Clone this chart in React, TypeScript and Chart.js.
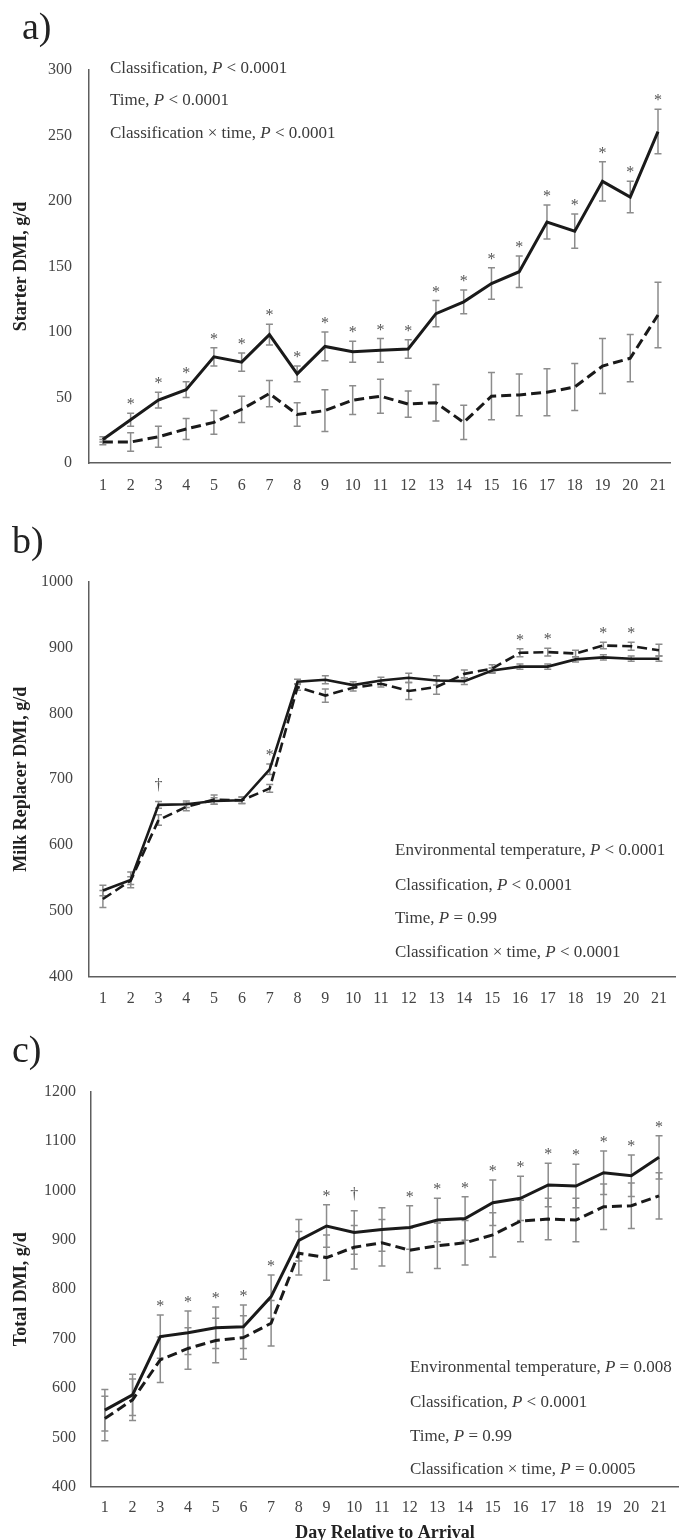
import React, { useEffect, useRef } from "react";
import { Chart, registerables } from "chart.js";

Chart.register(...registerables);

// ---------- data ----------
const days = [1, 2, 3, 4, 5, 6, 7, 8, 9, 10, 11, 12, 13, 14, 15, 16, 17, 18, 19, 20, 21];

// a) Starter DMI, g/d
const starterTicks = [0, 50, 100, 150, 200, 250, 300];
const starterSolid = [18, 33, 48, 56, 81, 77, 98, 68, 89, 85, 86, 87, 114, 123, 137, 146, 184, 177, 215, 203, 253];
const starterSolidErr = [2, 5, 6, 6, 7, 7, 8, 6, 11, 8, 9, 7, 10, 9, 12, 12, 13, 13, 15, 12, 17];
const starterDashed = [16, 16, 20, 26, 31, 41, 53, 37, 40, 48, 51, 45, 46, 31, 51, 52, 54, 58, 74, 80, 113];
const starterDashedErr = [2, 7, 8, 8, 9, 10, 10, 9, 16, 11, 13, 10, 14, 13, 18, 16, 18, 18, 21, 18, 25];
const starterMarks = ["", "*", "*", "*", "*", "*", "*", "*", "*", "*", "*", "*", "*", "*", "*", "*", "*", "*", "*", "*", "*"];

// b) Milk Replacer DMI, g/d
const milkTicks = [400, 500, 600, 700, 800, 900, 1000];
const milkSolid = [531, 547, 661, 662, 667, 668, 715, 848, 851, 843, 850, 854, 850, 849, 865, 871, 871, 882, 885, 883, 883];
const milkSolidErr = [8, 12, 5, 5, 5, 5, 8, 4, 6, 5, 5, 7, 7, 5, 4, 4, 4, 4, 4, 4, 4];
const milkDashed = [518, 546, 638, 658, 669, 668, 686, 840, 827, 839, 845, 834, 840, 860, 868, 892, 893, 891, 903, 902, 896];
const milkDashedErr = [13, 6, 8, 6, 7, 5, 6, 5, 10, 5, 5, 13, 11, 6, 6, 6, 6, 5, 5, 6, 9];
const milkMarks = ["", "", "†", "", "", "", "*", "", "", "", "", "", "", "", "", "*", "*", "", "*", "*", ""];

// c) Total DMI, g/d
const totalTicks = [400, 500, 600, 700, 800, 900, 1000, 1100, 1200];
const totalSolid = [555, 586, 704, 712, 722, 724, 785, 899, 928, 915, 921, 925, 940, 943, 975, 984, 1011, 1009, 1036, 1030, 1067];
const totalSolidErr = [42, 42, 44, 44, 42, 44, 44, 42, 43, 44, 44, 44, 44, 44, 46, 45, 44, 44, 44, 42, 44];
const totalDashed = [538, 576, 657, 680, 696, 702, 731, 873, 864, 885, 894, 879, 888, 894, 910, 938, 942, 940, 967, 969, 989];
const totalDashedErr = [45, 42, 46, 42, 45, 44, 46, 44, 46, 44, 47, 45, 46, 45, 45, 42, 42, 44, 46, 46, 47];
const totalMarks = ["", "", "*", "*", "*", "*", "*", "", "*", "†", "", "*", "*", "*", "*", "*", "*", "*", "*", "*", "*"];

// ---------- styles ----------
const SERIF = "'Liberation Serif', 'Times New Roman', serif";
const LINE = "#1a1a1a";
const AXIS = "#5e5e5e";
const TICK = "#444444";
const TEXT = "#3a3a3a";
const ERR = "#8c8c8c";

type Seg = { t: string; i?: boolean };

const errorBarPlugin = {
  id: "errorBars",
  beforeDatasetsDraw(chart: any) {
    const ctx = chart.ctx;
    const ys = chart.scales.y;
    chart.data.datasets.forEach((ds: any, di: number) => {
      const errs = ds.errors;
      if (!errs) return;
      const meta = chart.getDatasetMeta(di);
      ctx.save();
      ctx.strokeStyle = ERR;
      ctx.lineWidth = 1.5;
      meta.data.forEach((pt: any, i: number) => {
        const v = ds.data[i].y;
        const e = errs[i];
        const top = ys.getPixelForValue(v + e);
        const bot = ys.getPixelForValue(v - e);
        ctx.beginPath();
        ctx.moveTo(pt.x, top);
        ctx.lineTo(pt.x, bot);
        ctx.moveTo(pt.x - 3.5, top);
        ctx.lineTo(pt.x + 3.5, top);
        ctx.moveTo(pt.x - 3.5, bot);
        ctx.lineTo(pt.x + 3.5, bot);
        ctx.stroke();
      });
      ctx.restore();
    });
  },
};

function makeMarksPlugin(marks: string[]) {
  return {
    id: "sigMarks",
    afterDatasetsDraw(chart: any) {
      const ctx = chart.ctx;
      const ys = chart.scales.y;
      const xs = chart.scales.x;
      ctx.save();
      ctx.fillStyle = "#555555";
      ctx.textAlign = "center";
      ctx.textBaseline = "alphabetic";
      marks.forEach((m, i) => {
        if (!m) return;
        let top = Infinity;
        chart.data.datasets.forEach((ds: any) => {
          top = Math.min(top, ys.getPixelForValue(ds.data[i].y + ds.errors[i]));
        });
        const px = xs.getPixelForValue(days[i]);
        if (m === "*") {
          ctx.font = `16px ${SERIF}`;
          ctx.fillText(m, px, top - 4);
        } else {
          ctx.font = `16px ${SERIF}`;
          ctx.fillText(m, px, top - 12);
        }
      });
      ctx.restore();
    },
  };
}

function makeTextPlugin(p: any) {
  return {
    id: "panelText",
    afterDraw(chart: any) {
      const ctx = chart.ctx;
      ctx.save();
      ctx.fillStyle = "#222";
      ctx.textBaseline = "alphabetic";
      ctx.textAlign = "left";
      ctx.font = `38px ${SERIF}`;
      ctx.fillText(p.label, p.lx, p.ly);
      ctx.fillStyle = TEXT;
      ctx.textBaseline = "middle";
      p.lines.forEach((segs: Seg[], li: number) => {
        let x = p.tx;
        const y = p.ty[li];
        segs.forEach((s) => {
          ctx.font = `${s.i ? "italic " : ""}17px ${SERIF}`;
          ctx.fillText(s.t, x, y);
          x += ctx.measureText(s.t).width;
        });
      });
      ctx.restore();
    },
  };
}

function makeConfig(p: any) {
  const mk = (vals: number[]) => days.map((d, i) => ({ x: d, y: vals[i] }));
  return {
    type: "line",
    data: {
      datasets: [
        {
          data: mk(p.solid),
          errors: p.solidErr,
          borderColor: LINE,
          borderWidth: p.lw,
          pointRadius: 0,
          tension: 0,
          fill: false,
        },
        {
          data: mk(p.dashed),
          errors: p.dashedErr,
          borderColor: LINE,
          borderWidth: p.lw,
          borderDash: [10, 5],
          pointRadius: 0,
          tension: 0,
          fill: false,
        },
      ],
    },
    options: {
      animation: false,
      responsive: false,
      maintainAspectRatio: false,
      layout: { autoPadding: false, padding: { top: p.top, left: 0, right: p.right, bottom: 0 } },
      plugins: { legend: { display: false }, tooltip: { enabled: false } },
      scales: {
        x: {
          type: "linear",
          min: 0.5,
          max: p.xmax,
          afterBuildTicks: (s: any) => {
            s.ticks = days.map((v) => ({ value: v }));
          },
          afterFit: (s: any) => {
            s.height = p.xh;
          },
          grid: { display: false, drawTicks: false },
          border: { display: true, color: AXIS, width: 1.5 },
          ticks: {
            font: { family: SERIF, size: 16 },
            color: TICK,
            padding: p.xpad,
            maxRotation: 0,
            autoSkip: false,
            callback: (v: any) => String(v),
          },
          title: p.xTitle
            ? {
                display: true,
                text: p.xTitle,
                color: "#222",
                font: { family: SERIF, size: 18, weight: "bold", lineHeight: 1 },
                padding: { top: 0, bottom: 0 },
              }
            : { display: false },
        },
        y: {
          type: "linear",
          min: p.yTicks[0],
          max: p.yTicks[p.yTicks.length - 1],
          afterBuildTicks: (s: any) => {
            s.ticks = p.yTicks.map((v: number) => ({ value: v }));
          },
          afterFit: (s: any) => {
            s.width = p.yw;
          },
          grid: { display: false, drawTicks: false },
          border: { display: true, color: AXIS, width: 1.5 },
          ticks: {
            font: { family: SERIF, size: 16 },
            color: TICK,
            padding: p.ypad,
            callback: (v: any) => String(v),
          },
          title: {
            display: true,
            text: p.yTitle,
            color: "#222",
            font: { family: SERIF, size: 18, weight: "bold", lineHeight: 1 },
            padding: { top: 12, bottom: 0 },
          },
        },
      },
    },
    plugins: [errorBarPlugin, makeMarksPlugin(p.marks), makeTextPlugin(p)],
  };
}

const panelA = {
  h: 505,
  offset: 0,
  top: 70,
  right: 0,
  xmax: 21.45,
  xh: 42,
  xpad: 13,
  yw: 89,
  ypad: 17,
  lw: 3,
  yTicks: starterTicks,
  solid: starterSolid,
  solidErr: starterSolidErr,
  dashed: starterDashed,
  dashedErr: starterDashedErr,
  marks: starterMarks,
  yTitle: "Starter DMI, g/d",
  label: "a)",
  lx: 22,
  ly: 39,
  tx: 110,
  ty: [68.5, 101, 133.5],
  lines: [
    [{ t: "Classification, " }, { t: "P", i: true }, { t: " < 0.0001" }],
    [{ t: "Time, " }, { t: "P", i: true }, { t: " < 0.0001" }],
    [{ t: "Classification × time, " }, { t: "P", i: true }, { t: " < 0.0001" }],
  ],
};

const panelB = {
  h: 510,
  offset: 505,
  top: 76.7,
  right: 1,
  xmax: 21.6,
  xh: 38.3,
  xpad: 12,
  yw: 89,
  ypad: 16,
  lw: 2.6,
  yTicks: milkTicks,
  solid: milkSolid,
  solidErr: milkSolidErr,
  dashed: milkDashed,
  dashedErr: milkDashedErr,
  marks: milkMarks,
  yTitle: "Milk Replacer DMI, g/d",
  label: "b)",
  lx: 12,
  ly: 48,
  tx: 395,
  ty: [346, 380.5, 414, 448],
  lines: [
    [{ t: "Environmental temperature, " }, { t: "P", i: true }, { t: " < 0.0001" }],
    [{ t: "Classification, " }, { t: "P", i: true }, { t: " < 0.0001" }],
    [{ t: "Time, " }, { t: "P", i: true }, { t: " = 0.99" }],
    [{ t: "Classification × time, " }, { t: "P", i: true }, { t: " < 0.0001" }],
  ],
};

const panelC = {
  h: 527,
  offset: 1015,
  top: 76.7,
  right: 0,
  xmax: 21.72,
  xh: 55.3,
  xpad: 11,
  yw: 91,
  ypad: 15,
  lw: 3,
  yTicks: totalTicks,
  solid: totalSolid,
  solidErr: totalSolidErr,
  dashed: totalDashed,
  dashedErr: totalDashedErr,
  marks: totalMarks,
  yTitle: "Total DMI, g/d",
  xTitle: "Day Relative to Arrival",
  label: "c)",
  lx: 12,
  ly: 47,
  tx: 410,
  ty: [353, 388, 422, 455],
  lines: [
    [{ t: "Environmental temperature, " }, { t: "P", i: true }, { t: " = 0.008" }],
    [{ t: "Classification, " }, { t: "P", i: true }, { t: " < 0.0001" }],
    [{ t: "Time, " }, { t: "P", i: true }, { t: " = 0.99" }],
    [{ t: "Classification × time, " }, { t: "P", i: true }, { t: " = 0.0005" }],
  ],
};

function Panel({ p }: { p: any }) {
  const ref = useRef<HTMLCanvasElement | null>(null);
  useEffect(() => {
    if (!ref.current) return;
    const chart = new Chart(ref.current, makeConfig(p) as any);
    return () => chart.destroy();
  }, [p]);
  return (
    <canvas
      ref={ref}
      width={679}
      height={p.h}
      style={{ position: "absolute", left: 0, top: p.offset, width: 679, height: p.h }}
    />
  );
}

export default function App() {
  return (
    <div
      style={{
        position: "absolute",
        left: 0,
        top: 0,
        width: 679,
        height: 1540,
        overflow: "hidden",
        background: "#ffffff",
      }}
    >
      <Panel p={panelA} />
      <Panel p={panelB} />
      <Panel p={panelC} />
    </div>
  );
}
